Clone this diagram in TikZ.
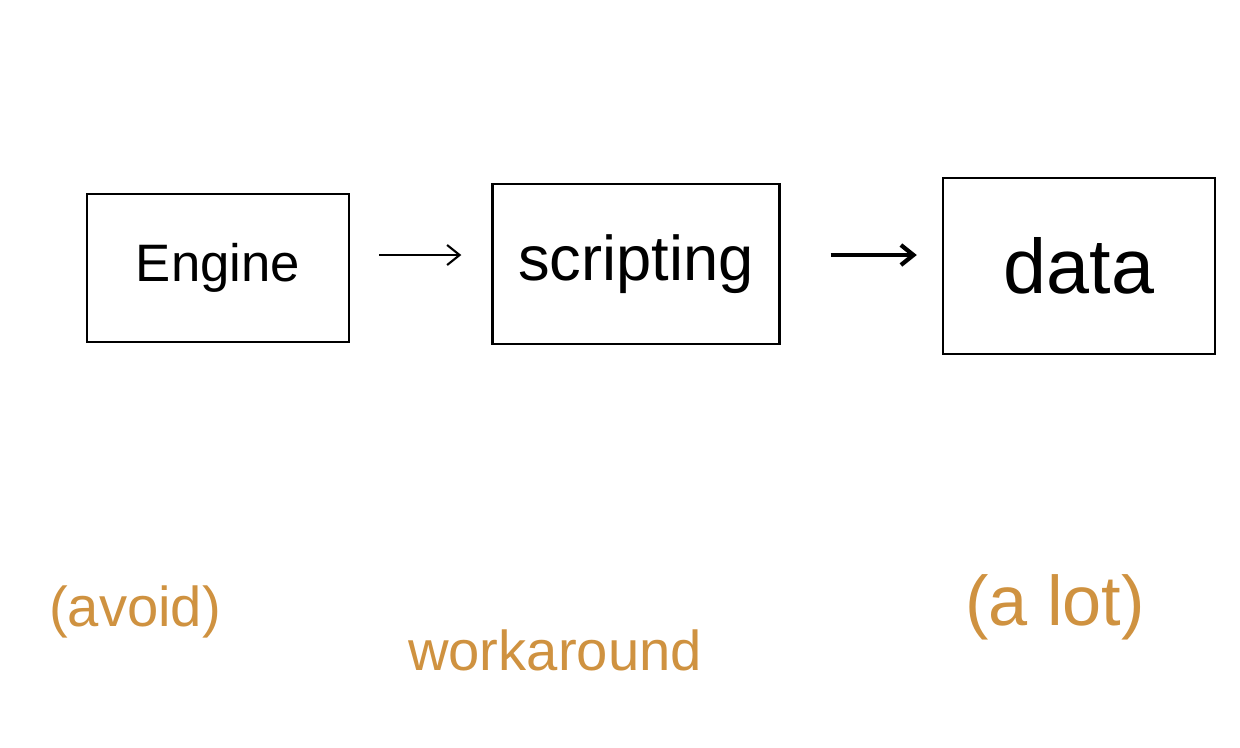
\documentclass[tikz,border=0pt]{standalone}
\usepackage{fontspec}
\setmainfont{Liberation Sans}
\usetikzlibrary{arrows.meta}
\definecolor{penorange}{HTML}{CF9240}
\newcommand{\bigtext}[1]{\fontsize{#1}{#1}\selectfont}

\begin{document}
\begin{tikzpicture}[x=0.02cm, y=-0.02cm,
        box/.style={draw, line width=1.4pt, inner sep=0pt},
        note/.style={text=penorange, font=\bigtext{32pt}},
        flow/.style={line width=1.6pt, -{Straight Barb[length=2.5mm, width=4mm]}}]
    \useasboundingbox (0, 0) rectangle (1240, 747);

    % the three stages
    \node[box, minimum width=5.24cm, minimum height=2.96cm, font=\bigtext{30pt}] (engine) at (218, 268) {Engine};
    \node[box, minimum width=5.74cm, minimum height=3.2cm, font=\bigtext{36pt}] (scripting) at (636, 264) {scripting};
    \node[box, minimum width=5.44cm, minimum height=3.52cm, font=\bigtext{44pt}] (data) at (1079, 266) {data};

    % arrows between them
    \draw[flow, line width=1.2pt, shorten <=0.58cm, shorten >=0.6cm]
        ([yshift=0.26cm]engine.east) -- ([yshift=0.26cm]engine.east -| scripting.west);
    \draw[flow, line width=2.4pt, shorten <=1cm, shorten >=0.5cm]
        ([yshift=0.18cm]scripting.east) -- ([yshift=0.18cm]scripting.east -| data.west);

    % notes underneath
    \node[note] (avoid) at (135, 612) {(avoid)};
    \node[note] (workaround) at (555, 650) {workaround};
    \node[note, font=\bigtext{40pt}] (alot) at (1055, 607) {(a lot)};
\end{tikzpicture}
\end{document}
